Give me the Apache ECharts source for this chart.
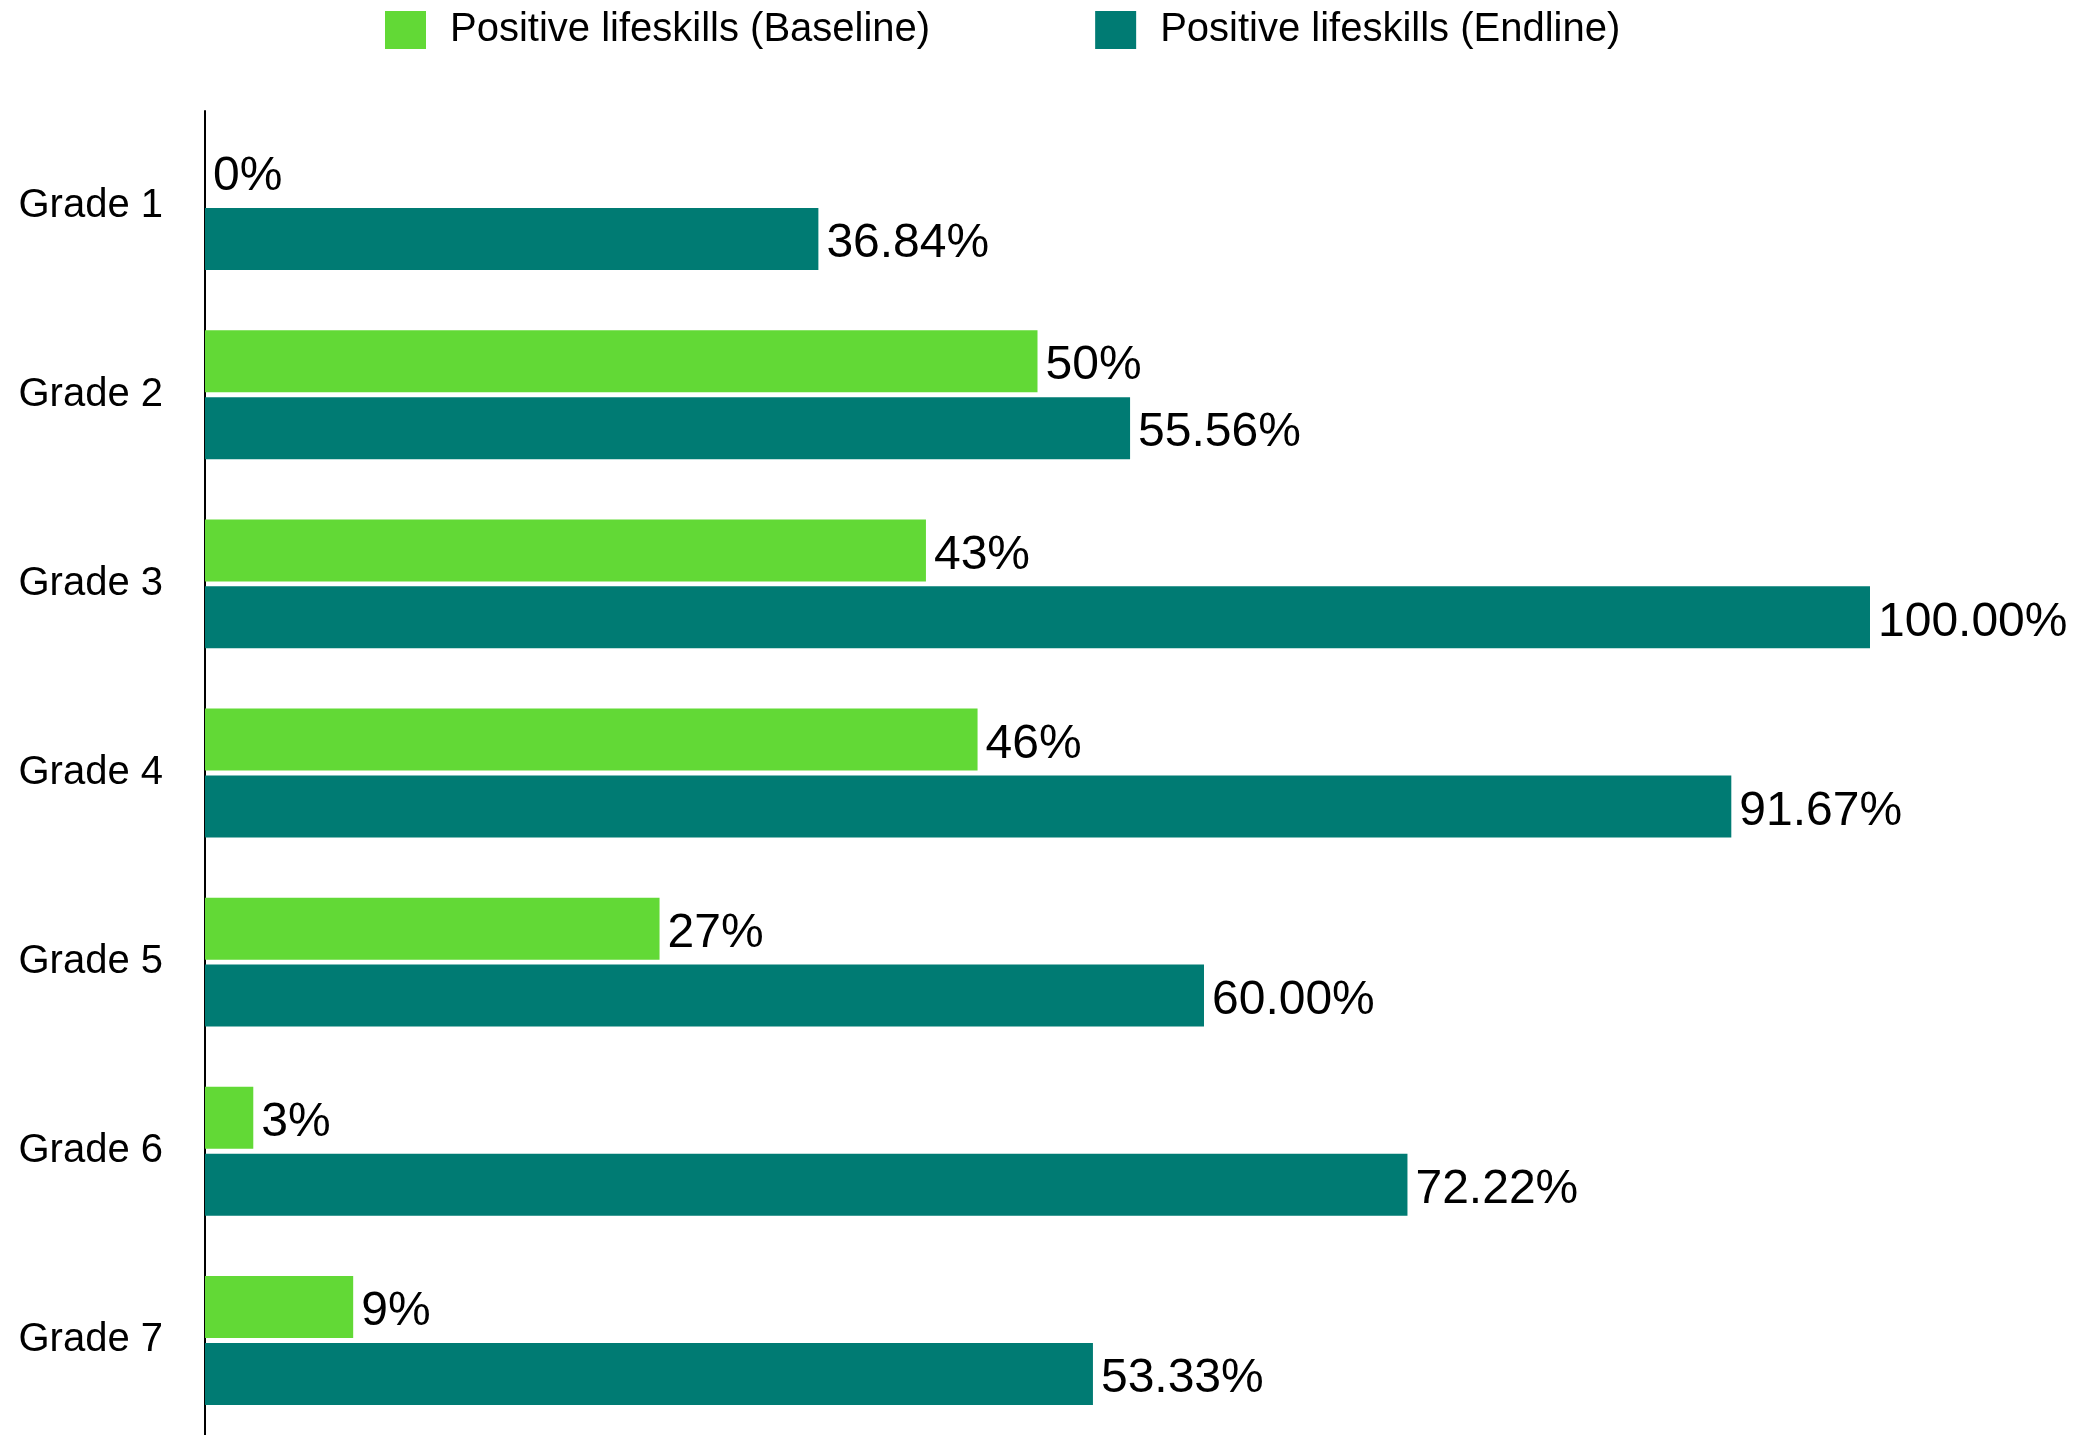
<!DOCTYPE html>
<html>
<head>
  <meta charset="utf-8" />
  <script src="https://cdn.jsdelivr.net/npm/echarts@6/dist/echarts.min.js"></script>
  <style>
    html, body { margin: 0; padding: 0; background: #fff; }
    #chart { width: 2087px; height: 1435px; }
  </style>
</head>
<body>
  <div id="chart"></div>
  <script>
    // grades, top to bottom
    const grades = ['Grade 1', 'Grade 2', 'Grade 3', 'Grade 4', 'Grade 5', 'Grade 6', 'Grade 7'];
    // baseline bars are drawn a bit off their rounded labels in the source
    const baseline = [0, 50, 43.3, 46.4, 27.3, 2.9, 8.9];
    const endline = [36.84, 55.56, 100, 91.67, 60, 72.22, 53.33];

    const font = '"Liberation Sans", Arial, Helvetica, sans-serif';

    const chart = echarts.init(document.getElementById('chart'));
    chart.setOption({
      animation: false,
      textStyle: { fontFamily: font, color: '#000' },
      legend: {
        left: 380,
        top: 5,
        itemWidth: 41,
        itemHeight: 38,
        itemGap: 165,
        icon: 'rect',
        textStyle: { fontSize: 40, color: '#000', padding: [4, 0, 0, 19] },
        data: ['Positive lifeskills (Baseline)', 'Positive lifeskills (Endline)'],
      },
      grid: {
        left: 205,
        top: 111,
        width: 1665,
        height: 1328,
        containLabel: false,
      },
      xAxis: {
        type: 'value',
        min: 0,
        max: 100,
        show: false,
        splitLine: { show: false },
      },
      yAxis: {
        type: 'category',
        data: grades,
        inverse: true,
        axisLine: { show: true, lineStyle: { color: '#000', width: 2 } },
        axisTick: { show: false },
        axisLabel: { fontSize: 40, color: '#000', margin: 42, padding: [0, 0, 8, 0] },
      },
      series: [
        {
          name: 'Positive lifeskills (Baseline)',
          type: 'bar',
          data: baseline,
          barWidth: 62,
          barGap: '8%',
          itemStyle: { color: '#62d936' },
          label: {
            show: true,
            position: 'right',
            distance: 8,
            offset: [0, 5],
            fontSize: 48,
            color: '#000',
            formatter: (p) => Math.round(p.value) + '%',
          },
        },
        {
          name: 'Positive lifeskills (Endline)',
          type: 'bar',
          data: endline,
          barWidth: 62,
          itemStyle: { color: '#007b73' },
          label: {
            show: true,
            position: 'right',
            distance: 8,
            offset: [0, 5],
            fontSize: 48,
            color: '#000',
            formatter: (p) => p.value.toFixed(2) + '%',
          },
        },
      ],
    });
  </script>
</body>
</html>
